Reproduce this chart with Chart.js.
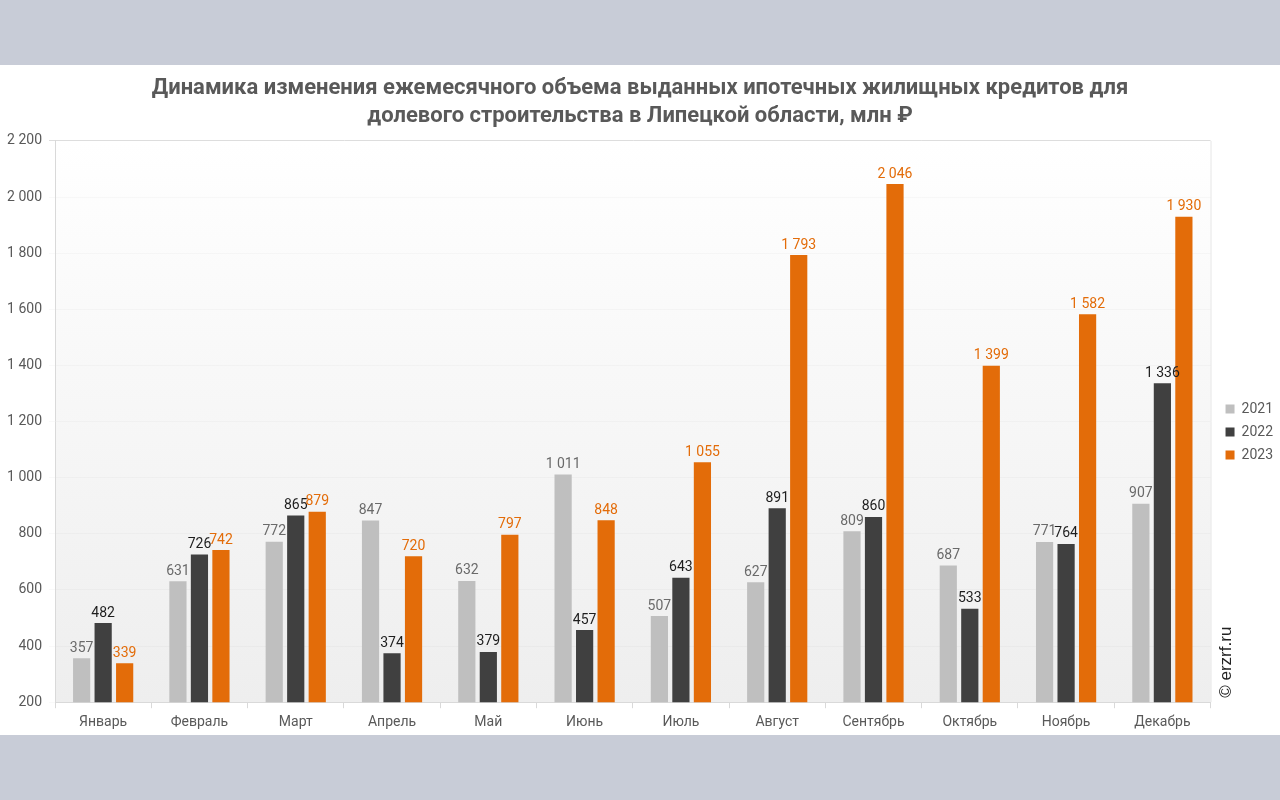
<!DOCTYPE html>
<html>
<head>
<meta charset="utf-8">
<script src="https://cdn.jsdelivr.net/npm/chart.js@4.4.1/dist/chart.umd.min.js"></script>
<style>
  html, body { margin: 0; padding: 0; background: #c8ccd7; }
  #wrap { position: absolute; left: 0; top: 65px; width: 1280px; height: 670px; background: #fff; }
</style>
</head>
<body>
<div id="wrap"><canvas id="myChart" width="1280" height="670"></canvas></div>
<script>
const months = ["Январь", "Февраль", "Март", "Апрель", "Май", "Июнь", "Июль", "Август", "Сентябрь", "Октябрь", "Ноябрь", "Декабрь"];
const years = ["2021", "2022", "2023"];
const vals2021 = [357, 631, 772, 847, 632, 1011, 507, 627, 809, 687, 771, 907];
const vals2022 = [482, 726, 865, 374, 379, 457, 643, 891, 860, 533, 764, 1336];
const vals2023 = [339, 742, 879, 720, 797, 848, 1055, 1793, 2046, 1399, 1582, 1930];
const yTicks = [200, 400, 600, 800, 1000, 1200, 1400, 1600, 1800, 2000, 2200];

const barColors = ["#bfbfbf", "#404040", "#e36c09"];
const labelColors = ["#6a6a6a", "#1e1e1e", "#e36c09"];

function fmt(v) {
  return String(v).replace(/\B(?=(\d{3})+(?!\d))/g, " ");
}

// plot background gradient, right border, copyright
const bgPlugin = {
  id: "bg",
  beforeLayout(chart) {
    const lg = chart.legend;
    if (lg && !lg._wide) {
      const fit = lg.fit.bind(lg);
      lg.fit = function () { fit(); this.width += 3; };
      lg._wide = true;
    }
  },
  afterLayout(chart) {
    const lg = chart.legend;
    lg.left += 6; lg.right += 6;
    lg.top += 28; lg.bottom += 28;
  },
  beforeDraw(chart) {
    const { ctx, chartArea: a } = chart;
    const g = ctx.createLinearGradient(0, a.top, 0, a.bottom);
    g.addColorStop(0, "#ffffff");
    g.addColorStop(1, "#eeeeee");
    ctx.save();
    ctx.fillStyle = g;
    ctx.fillRect(a.left, a.top, a.right - a.left, a.bottom - a.top);
    ctx.strokeStyle = "#e6e6e6";
    ctx.lineWidth = 1;
    ctx.beginPath();
    ctx.moveTo(a.right + 0.5, a.top);
    ctx.lineTo(a.right + 0.5, a.bottom);
    ctx.stroke();
    ctx.restore();
  },
  afterDraw(chart) {
    const { ctx, chartArea: a } = chart;
    ctx.save();
    ctx.translate(a.right + 16, a.bottom - 40);
    ctx.rotate(-Math.PI / 2);
    ctx.font = "17px 'Liberation Sans'";
    ctx.fillStyle = "#222";
    ctx.textAlign = "center";
    ctx.textBaseline = "middle";
    ctx.fillText("© erzrf.ru", 0, 0);
    ctx.restore();
  }
};

// value labels above bars
const valuePlugin = {
  id: "values",
  afterDatasetsDraw(chart) {
    const ctx = chart.ctx;
    ctx.save();
    ctx.font = "14px Roboto";
    ctx.textAlign = "center";
    ctx.textBaseline = "bottom";
    chart.data.datasets.forEach((ds, i) => {
      const meta = chart.getDatasetMeta(i);
      ctx.fillStyle = labelColors[i];
      meta.data.forEach((bar, j) => {
        ctx.fillText(fmt(ds.data[j]), bar.x, bar.y - 3);
      });
    });
    ctx.restore();
  }
};

const ctx = document.getElementById("myChart").getContext("2d");
const chart = new Chart(ctx, {
  type: "bar",
  data: {
    labels: months,
    datasets: [
      { label: years[0], data: vals2021, backgroundColor: barColors[0] },
      { label: years[1], data: vals2022, backgroundColor: barColors[1] },
      { label: years[2], data: vals2023, backgroundColor: barColors[2] },
    ],
  },
  options: {
    responsive: false,
    animation: false,
    datasets: { bar: { categoryPercentage: 0.67, barPercentage: 0.8 } },
    layout: { padding: { left: 0, right: 0, top: 6, bottom: -2 } },
    plugins: {
      title: {
        display: true,
        text: ["Динамика изменения ежемесячного объема выданных ипотечных жилищных кредитов для", "долевого строительства в Липецкой области, млн ₽"],
        color: "#595959",
        font: { family: "Roboto", size: 22, weight: "bold", lineHeight: 1.27 },
        padding: { top: 4, bottom: 10 },
      },
      legend: {
        position: "right",
        labels: {
          boxWidth: 9,
          boxHeight: 9,
          padding: 9,
          color: "#595959",
          font: { family: "Roboto", size: 14 },
        },
      },
      tooltip: { enabled: false },
    },
    scales: {
      x: {
        grid: { offset: true, drawOnChartArea: false, drawTicks: true, tickLength: 6, color: "#d9d9d9" },
        border: { color: "#d9d9d9" },
        ticks: { color: "#595959", font: { family: "Roboto", size: 14 }, padding: 6 },
      },
      y: {
        min: 200,
        max: 2200,
        afterBuildTicks(axis) {
          axis.ticks = yTicks.map((v) => ({ value: v }));
        },
        afterFit(axis) {
          axis.width = 55;
        },
        grid: {
          tickLength: 6,
          color: (c) => (c.tick && c.tick.value === 2200 ? "#dddddd" : "rgba(0,0,0,0.025)"),
        },
        border: { color: "#d9d9d9" },
        ticks: {
          color: "#595959",
          font: { family: "Roboto", size: 14 },
          padding: 7,
          callback: (v) => fmt(v),
        },
      },
    },
  },
  plugins: [bgPlugin, valuePlugin],
});
</script>
</body>
</html>
